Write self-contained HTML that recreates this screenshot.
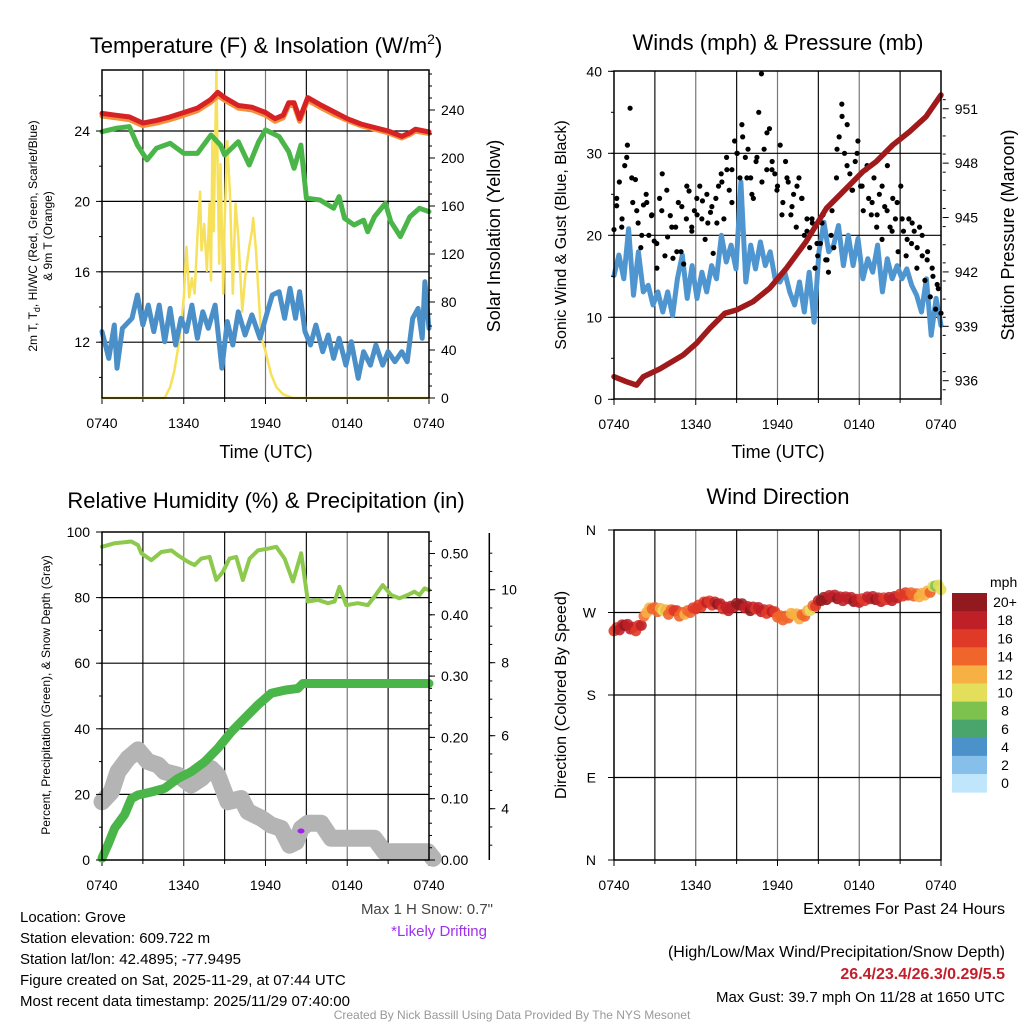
<!DOCTYPE html>
<html><head><meta charset="utf-8"><style>
body{margin:0;background:#fff;}
svg{display:block;font-family:"Liberation Sans",Arial,sans-serif;}
</style></head><body>
<svg id="fig" width="1024" height="1024" viewBox="0 0 1024 1024" xmlns="http://www.w3.org/2000/svg">
<rect width="1024" height="1024" fill="#fff"/>
<g id="static" font-size="14" fill="#000">
<text x="266" y="53" font-size="22" text-anchor="middle">Temperature (F) &amp; Insolation (W/m<tspan font-size="14" dy="-9">2</tspan><tspan dy="9">)</tspan></text>
<text x="778" y="50" font-size="22" text-anchor="middle">Winds (mph) &amp; Pressure (mb)</text>
<text x="266" y="508" font-size="22" text-anchor="middle">Relative Humidity (%) &amp; Precipitation (in)</text>
<text x="778" y="504" font-size="22" text-anchor="middle">Wind Direction</text>
<text x="266" y="458" font-size="18" text-anchor="middle">Time (UTC)</text>
<text x="778" y="458" font-size="18" text-anchor="middle">Time (UTC)</text>
<text transform="translate(37,236) rotate(-90)" font-size="12" text-anchor="middle">2m T, T<tspan font-size="9" dy="3">d</tspan><tspan dy="-3">, HI/WC (Red, Green, Scarlet/Blue)</tspan></text>
<text transform="translate(52,236) rotate(-90)" font-size="12" text-anchor="middle">&amp; 9m T (Orange)</text>
<text transform="translate(500,236) rotate(-90)" font-size="18" text-anchor="middle">Solar Insolation (Yellow)</text>
<text transform="translate(566,235) rotate(-90)" font-size="16" text-anchor="middle">Sonic Wind &amp; Gust (Blue, Black)</text>
<text transform="translate(1014,235) rotate(-90)" font-size="18" text-anchor="middle">Station Pressure (Maroon)</text>
<text transform="translate(50,695) rotate(-90)" font-size="12" text-anchor="middle">Percent, Precipitation (Green), &amp; Snow Depth (Gray)</text>
<text transform="translate(566,695) rotate(-90)" font-size="16" text-anchor="middle">Direction (Colored By Speed)</text>
<g font-size="15">
<text x="20" y="922">Location: Grove</text>
<text x="20" y="943">Station elevation: 609.722 m</text>
<text x="20" y="964">Station lat/lon: 42.4895; -77.9495</text>
<text x="20" y="985">Figure created on Sat, 2025-11-29, at 07:44 UTC</text>
<text x="20" y="1006">Most recent data timestamp: 2025/11/29 07:40:00</text>
</g>
<text x="493" y="914" font-size="15" fill="#444" text-anchor="end">Max 1 H Snow: 0.7"</text>
<text x="487" y="936" font-size="15" fill="#a030f0" text-anchor="end">*Likely Drifting</text>
<g font-size="16" text-anchor="end">
<text x="1005" y="914">Extremes For Past 24 Hours</text>
<text x="1005" y="957">(High/Low/Max Wind/Precipitation/Snow Depth)</text>
<text x="1005" y="979" font-weight="bold" fill="#c41e2a">26.4/23.4/26.3/0.29/5.5</text>
<text x="1005" y="1002" font-size="15">Max Gust: 39.7 mph On 11/28 at 1650 UTC</text>
</g>
<text x="512" y="1019" font-size="12" fill="#999" text-anchor="middle">Created By Nick Bassill Using Data Provided By The NYS Mesonet</text>
</g>
<g id="dyn"></g>
</svg>
<script>
// ---- Panel 1 data ----
const tempTimes=[0,1,2,3,4,5,6,7,8,8.5,9,10,11,12,12.7,13.3,13.7,14.1,14.5,15.1,16,17,18,19,20,21,22,22.6,23,24];
const redTemp=[25.0,24.9,24.8,24.45,24.6,24.8,25.05,25.3,25.8,26.2,25.9,25.45,25.35,25.05,24.7,24.9,25.6,25.6,24.7,25.9,25.5,25.1,24.7,24.4,24.2,24.0,23.7,23.9,24.1,23.95];
const orangeTemp=[24.85,24.75,24.65,24.3,24.45,24.65,24.9,25.15,25.65,26.0,25.75,25.3,25.2,24.9,24.55,24.75,25.45,25.45,24.55,25.75,25.35,24.95,24.6,24.3,24.1,23.9,23.6,23.8,24.0,23.85];
const tdTimes=[0,1,2,2.6,3.3,4,5,6,7,8,8.7,9,10,10.8,11.5,12,13,13.7,14.1,14.6,15,16,17,17.4,17.8,18.5,19.2,19.5,20,20.8,21.2,21.9,22.6,23.3,24];
const tdValues=[23.96,24.15,24.25,23.2,22.36,23.02,23.3,22.73,22.73,23.77,23.2,22.64,23.39,22.07,23.39,24.06,23.68,22.83,21.88,23.2,20.18,20.08,19.61,20.27,19.04,18.66,18.94,18.28,19.13,19.89,18.85,18.0,19.13,19.61,19.42];
const wcTimes=[0,0.5,0.9,1.1,1.5,2.2,2.6,3,3.4,3.8,4.2,4.6,5,5.4,5.8,6.2,6.6,7,7.4,7.8,8.3,8.8,9.2,9.6,10,10.5,11,11.6,12,12.5,13,13.4,13.8,14.2,14.5,14.9,15.3,15.7,16.2,16.6,17,17.4,17.9,18.3,18.8,19.2,19.7,20.1,20.6,21,21.5,22,22.4,22.8,23.2,23.5,23.7,24];
const wcValues=[12.6,11.08,12.98,10.52,12.79,13.36,14.68,12.98,14.11,12.6,14.11,12.03,13.92,11.84,13.36,12.6,14.11,12.22,13.73,12.79,14.11,10.52,13.17,11.84,13.73,12.41,13.55,12.22,13.36,14.68,14.87,13.36,15.06,13.36,14.87,12.6,11.84,12.98,11.46,12.41,11.08,12.22,10.7,12.03,9.95,11.46,10.7,11.84,10.7,11.46,10.89,11.46,10.89,13.36,13.92,12.22,15.44,12.79];
const solarTimes=[0,4.6,5.0,5.3,5.7,6.0,6.2,6.4,6.6,6.8,7.0,7.2,7.3,7.5,7.7,7.9,8.0,8.1,8.2,8.4,8.5,8.6,8.7,8.9,9.0,9.2,9.4,9.6,9.8,10.0,10.3,10.5,10.8,11.0,11.1,11.3,11.5,11.7,12.0,12.4,12.8,13.3,14,24];
const solarValues=[0,0,9,22,50,84,126,84,100,87,134,172,123,145,106,162,98,214,139,273,181,112,195,87,145,214,167,87,162,134,72,100,126,139,150,123,84,50,39,20,9,3,0,0];
const tempTicks=[12,16,20,24];
const solarTicks=[0,40,80,120,160,200,240];
const timeLabels=["0740","1340","1940","0140","0740"];
// ---- Panel 2 data ----
const windValues=[15.1,17.6,14.7,20.8,12.7,18.0,13.1,13.9,11.5,13.1,10.65,13.1,10.2,14.7,17.6,12.3,16.3,12.3,15.5,13.1,16.3,14.7,20.0,16.75,18.8,15.9,26.5,14.3,18.8,15.9,19.2,16.3,18.0,14.7,14.3,15.5,13.1,11.5,14.3,10.65,15.5,9.4,18.0,21.6,18.0,18.8,21.2,16.3,20.0,16.3,19.6,14.7,17.15,15.5,18.8,13.1,17.15,14.7,16.3,14.7,15.9,13.9,12.7,10.65,14.7,7.8,12.3,9.0];
const gustValues=[20.7,23.6,26.5,22.0,28.5,31.0,35.5,24.0,26.8,21.5,18.5,23.7,25.0,20.0,22.4,19.3,16.0,24.5,27.5,17.5,19.8,22.4,17.2,21.0,24.0,18.0,16.5,22.0,25.4,21.0,23.0,22.5,26.0,24.2,19.5,21.5,22.8,17.8,24.5,26.0,27.5,22.0,29.5,25.5,28.0,31.5,30.0,27.0,32.0,29.5,30.5,27.0,24.5,29.0,35.0,39.7,30.5,28.0,33.0,29.0,27.5,26.0,31.0,24.0,29.0,26.5,22.5,25.0,21.0,27.0,24.5,20.0,22.0,18.5,21.5,16.0,17.5,19.0,22.5,17.0,15.5,20.0,18.5,27.0,32.0,36.0,30.0,33.5,27.5,25.5,29.0,31.5,26.0,23.0,28.0,24.5,22.5,27.0,21.0,25.0,19.5,23.5,28.5,21.0,24.5,22.0,18.0,26.0,20.5,17.5,22.0,19.0,20.5,16.0,21.0,17.5,14.5,18.0,12.5,15.0,11.0,13.5,10.5];
const gustValues2=[24.5,21.0,29.5,27.0,23.0,20.0,24.0,22.5,19.0,23.0,25.5,21.0,18.0,23.5,26.0,20.5,24.5,22.0,25.0,23.5,21.5,26.5,28.0,24.0,30.0,33.5,27.0,25.0,29.5,26.5,32.5,28.0,25.5,22.5,27.0,23.5,26.0,24.5,20.5,22.0,19.0,21.5,17.0,23.0,30.5,34.5,28.5,25.5,30.0,26.0,28.5,24.0,22.5,26.0,23.0,20.5,24.0,22.0,19.5,21.5,18.5,20.0,17.0,16.0,14.0];
const presTimes=[0,0.93,1.66,2.15,3.37,5.08,6.05,7.03,8.13,8.98,10.2,11.43,12.65,14.1,15.58,17.04,18.26,19.24,20.46,21.68,22.9,24];
const presValues=[936.22,935.94,935.76,936.22,936.65,937.42,938.06,938.89,939.72,939.9,940.36,941.1,942.2,943.67,945.5,946.6,947.53,948.08,949.0,949.73,950.56,951.76];
const windTicks=[0,10,20,30,40];
const presTicks=[936,939,942,945,948,951];
// ---- Panel 3 data ----
const rhTimes=[0,0.93,2.15,2.64,2.89,3.62,4.35,5.09,5.57,6.31,6.8,7.29,7.9,8.39,8.87,9.36,9.85,10.34,10.83,11.44,12.17,12.79,13.4,14.01,14.62,15.11,15.84,16.58,17.07,17.43,17.92,18.78,19.51,20.0,20.61,21.22,21.83,22.44,22.93,23.3,23.67,24];
const rhValues=[95.5,96.6,97.1,96.0,93.5,91.4,93.9,94.4,92.9,90.9,89.9,91.9,92.4,85.4,87.9,91.9,92.4,85.4,91.9,94.4,94.9,95.5,91.9,84.9,93.5,78.8,79.3,78.3,78.8,83.3,77.7,78.3,77.7,80.3,83.8,80.8,79.8,80.8,81.8,80.8,82.8,82.3];
const precipTimes=[0,0.44,0.93,1.66,2.15,2.64,3.62,4.6,5.57,6.55,7.53,8.5,9.49,10.46,11.44,12.42,13.4,14.38,14.74,24];
const precipValues=[0.003,0.025,0.052,0.074,0.1,0.106,0.111,0.117,0.133,0.144,0.16,0.182,0.209,0.231,0.253,0.272,0.277,0.28,0.288,0.288];
const snowTimes=[0,0.68,1.17,1.91,2.64,3.37,4.11,4.6,5.57,6.55,7.29,8.02,8.5,9.24,10.22,10.71,11.69,12.42,13.15,13.77,14.25,14.62,15.11,16.09,16.82,19.99,20.73,23.91,24.3];
const snowValues=[4.19,4.46,5.01,5.38,5.61,5.29,5.2,5.01,4.92,4.65,4.83,5.1,4.92,4.19,4.28,3.92,3.74,3.55,3.46,3.0,3.09,3.46,3.6,3.6,3.19,3.19,2.82,2.82,2.64];
const rhTicks=[0,20,40,60,80,100];
const precipTicks=[0.0,0.1,0.2,0.3,0.4,0.5];
const snowTicks=[4,6,8,10];
// ---- Panel 4 data ----
const dirValues=[250,251,256,252,250,256,270,274,271,272,268,272,266,268,270,274,276,281,278,279,274,272,276,278,275,272,274,271,269,271,265,262,264,268,263,266,272,277,283,284,287,285,283,285,282,281,283,285,284,282,284,283,286,288,289,288,287,289,292,299,295];
const speedValues=[16,17,19,18,16,17,12,13,14,10,13,16,14,12,14,16,15,17,16,19,16,18,18,20,18,19,16,18,16,17,14,14,13,11,12,14,10,16,20,19,18,19,18,17,20,17,16,18,19,17,16,18,17,16,15,14,12,11,13,8,10];
const dirTicks=["N","E","S","W","N"];
const speedBins=["0","2","4","6","8","10","12","14","16","18","20+"];
const binColors=["#bfe6fa","#86c0ea","#4b91ca","#4aa56c","#7dc14e","#e4df5b","#f7b044","#f0652b","#df3a27","#bf2028","#921a1e"];

const NS="http://www.w3.org/2000/svg";
const dyn=document.getElementById('dyn');
function mk(tag,attrs,parent){const e=document.createElementNS(NS,tag);for(const k in attrs)e.setAttribute(k,attrs[k]);(parent||dyn).appendChild(e);return e;}
const P1={x0:102,x1:429,y0:70,y1:398};
const P2={x0:614,x1:941,y0:71,y1:399};
const P3={x0:102,x1:429,y0:532,y1:860};
const P4={x0:614,x1:941,y0:530,y1:860};
const xs=(p,t)=>p.x0+(p.x1-p.x0)*t/24;
const yTemp=v=>131-(v-24)*17.6;
const ySol=v=>398-v*1.2;
const yWind=v=>399.3-v*8.2;
const yPres=v=>380.7-(v-936)*18.13;
const yRH=v=>860-v*3.28;
const yPr=v=>860-v*613;
const ySn=v=>954.7-v*36.5;
const yDir=d=>860-d*330/360;
const even=(n,i)=>24*i/(n-1);

function frame(p,name){
  const g=mk('g',{});
  
  
  for(let h=3;h<24;h+=3){const x=xs(p,h);mk('line',{x1:x,x2:x,y1:p.y0,y2:p.y1,stroke:h%6===0?'#777':'#111','stroke-width':1.2},g);}
  for(let h=0;h<=24;h+=3){const x=xs(p,h);mk('line',{x1:x,x2:x,y1:p.y1,y2:p.y1+(h%6===0?6:4),stroke:'#000'},g);}
  for(let i=0;i<timeLabels.length;i++){
    const t=mk('text',{x:xs(p,i*6),y:p.y1+30,'text-anchor':'middle','font-size':14});
    
    
    t.textContent=timeLabels[i];
  }
  return g;
}
function hgrid(p,ys){for(const y of ys)mk('line',{x1:p.x0,x2:p.x1,y1:y,y2:y,stroke:'#000','stroke-width':1.2});}
function border(p,name){const r=mk('rect',{x:p.x0,y:p.y0,width:p.x1-p.x0,height:p.y1-p.y0,fill:'none',stroke:'#000','stroke-width':1.5});}
function ticks(x,vals,yf,side,fmt,name,minorVals){
  for(const v of vals){const y=yf(v);mk('line',{x1:x,x2:x+side*6,y1:y,y2:y,stroke:'#000'});
    const t=mk('text',{x:x+side*12,y:y+5,'text-anchor':side<0?'end':'start','font-size':14});
    
    
    t.textContent=fmt(v);}
  if(minorVals)for(const v of minorVals){const y=yf(v);mk('line',{x1:x,x2:x+side*3,y1:y,y2:y,stroke:'#000'});}
}
function path(xsArr,ysArr,color,w,name,op){
  let d='';for(let i=0;i<xsArr.length;i++)d+=(i?'L':'M')+xsArr[i].toFixed(1)+','+ysArr[i].toFixed(1);
  const e=mk('path',{d:d,fill:'none',stroke:color,'stroke-width':w,'stroke-linejoin':'round','stroke-linecap':'round',opacity:op||1});
  
  
  return e;
}
function range(a,b,s){const r=[];for(let v=a;v<=b+1e-9;v+=s)r.push(v);return r;}

// Panel 1
frame(P1,'temp');hgrid(P1,tempTicks.map(yTemp));
path(solarTimes.map(t=>xs(P1,t)),solarValues.map(ySol),'#f7e15a',2.5,'solar-line');
path(wcValues.map((v,i)=>xs(P1,wcTimes[i])),wcValues.map(yTemp),'#4a8fc8',5,'hi-wc-line');
path(tdValues.map((v,i)=>xs(P1,tdTimes[i])),tdValues.map(yTemp),'#4ab548',5,'dewpoint-line');
path(orangeTemp.map((v,i)=>xs(P1,tempTimes[i])),orangeTemp.map(yTemp),'#f5903a',5,'9m-temp-line');
path(redTemp.map((v,i)=>xs(P1,tempTimes[i])),redTemp.map(yTemp),'#d62224',5,'2m-temp-line');
border(P1,'temp');
ticks(P1.x0,tempTicks,yTemp,-1,v=>v,'temp-y',range(10,26,2));
ticks(P1.x1,solarTicks,ySol,1,v=>v,'solar-y',range(0,270,10));

// Panel 2
frame(P2,'wind');hgrid(P2,[10,20,30].map(yWind));
path(windValues.map((v,i)=>xs(P2,even(windValues.length,i))),windValues.map(yWind),'#4f95cf',5,'sonic-wind-line');
for(let i=0;i<gustValues.length;i++){const c=mk('circle',{cx:xs(P2,even(gustValues.length,i)),cy:yWind(gustValues[i]),r:2.6,fill:'#000'});
  
  }
for(let i=0;i<gustValues2.length;i++){const c=mk('circle',{cx:xs(P2,0.2+even(gustValues2.length,i)*0.98),cy:yWind(gustValues2[i]),r:2.6,fill:'#000'});
  
  }
path(presValues.map((v,i)=>xs(P2,presTimes[i])),presValues.map(yPres),'#a01a1c',5.5,'pressure-line');
border(P2,'wind');
ticks(P2.x0,windTicks,yWind,-1,v=>v,'wind-y',range(0,40,5));
ticks(942.7,presTicks,yPres,1,v=>v,'pressure-y',range(935.5,952,1));

// Panel 3
frame(P3,'rh');hgrid(P3,[20,40,60,80].map(yRH));
path(snowValues.map((v,i)=>xs(P3,snowTimes[i])),snowValues.map(ySn),'#b4b4b4',17,'snow-depth-line');
path(precipValues.map((v,i)=>xs(P3,precipTimes[i])),precipValues.map(yPr),'#4ab548',9,'precip-line');
path(rhValues.map((v,i)=>xs(P3,rhTimes[i])),rhValues.map(yRH),'#8cc94c',4,'rh-line');
const drift=mk('ellipse',{cx:301,cy:831,rx:3.5,ry:2.5,fill:'#a020f0'});


border(P3,'rh');
ticks(P3.x0,rhTicks,yRH,-1,v=>v,'rh-y',range(0,100,10));
ticks(P3.x1,precipTicks,yPr,1,v=>v.toFixed(2),'precip-y',range(0,0.52,0.02));
mk('line',{x1:489.3,x2:489.3,y1:533,y2:860,stroke:'#000','stroke-width':1.5});
ticks(489.3,snowTicks,ySn,1,v=>v,'snow-y',range(3,11,0.5));

// Panel 4
frame(P4,'dir');hgrid(P4,[90,180,270].map(yDir));
function binColor(s){let b=Math.min(10,Math.floor(s/2+0.5));return binColors[b];}
for(let i=0;i<dirValues.length;i++){
  const t=even(dirValues.length,i);
  const c=mk('circle',{cx:xs(P4,t),cy:yDir(dirValues[i]),r:5.5,fill:binColor(speedValues[i]),opacity:0.9});
  
  
  if(i<dirValues.length-1){
    const c2=mk('circle',{cx:xs(P4,t+0.2),cy:yDir((dirValues[i]+dirValues[i+1])/2+3),r:5.5,fill:binColor((speedValues[i]+speedValues[i+1])/2),opacity:0.85});
    
    
  }
}
border(P4,'dir');
for(let i=0;i<dirTicks.length;i++){const y=yDir(i*90);mk('line',{x1:P4.x0,x2:P4.x0-6,y1:y,y2:y,stroke:'#000'});
  const t=mk('text',{x:P4.x0-18,y:y+5,'text-anchor':'end','font-size':14});
  
  
  t.textContent=dirTicks[i];}
// colorbar
const cbTop=593,cbH=18.1;
const mph=mk('text',{x:990,y:587,'font-size':14});


mph.textContent='mph';
for(let i=0;i<speedBins.length;i++){
  const idx=speedBins.length-1-i;
  const r=mk('rect',{x:952,y:cbTop+i*cbH,width:35,height:cbH+0.5,fill:binColors[idx]});
  
  
  const t=mk('text',{x:1005,y:cbTop+i*cbH+cbH/2+5,'text-anchor':'middle','font-size':14});
  
  
  t.textContent=speedBins[idx];
}
</script>
</body></html>
